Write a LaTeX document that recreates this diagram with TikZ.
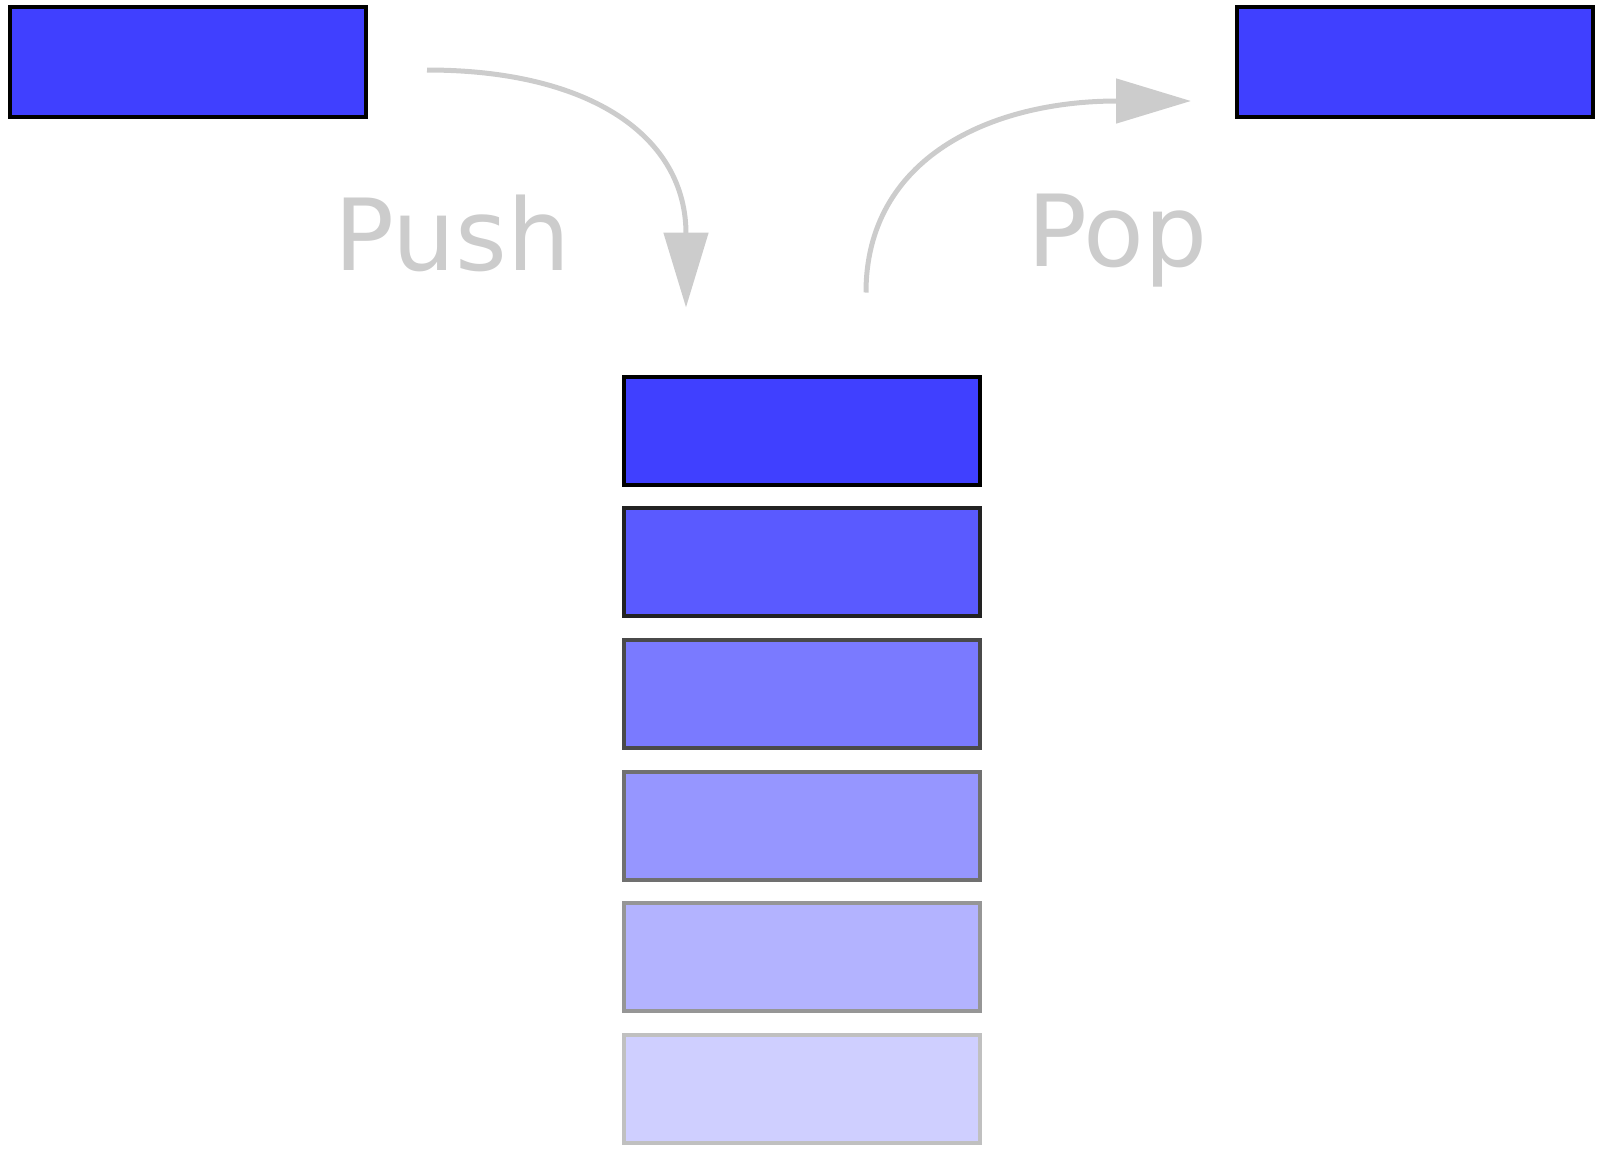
\documentclass[tikz,border=0pt]{standalone}
\usepackage{fontspec}
\setmainfont{DejaVu Sans}
\usetikzlibrary{positioning,arrows.meta}
\definecolor{item1}{RGB}{64,64,255}
\definecolor{item2}{RGB}{90,90,255}
\definecolor{item3}{RGB}{122,122,255}
\definecolor{item4}{RGB}{150,150,255}
\definecolor{item5}{RGB}{179,179,255}
\definecolor{item6}{RGB}{207,207,255}
\definecolor{edge2}{RGB}{34,34,34}
\definecolor{edge3}{RGB}{74,74,74}
\definecolor{edge4}{RGB}{112,112,112}
\definecolor{edge5}{RGB}{150,150,150}
\definecolor{edge6}{RGB}{192,192,192}
\definecolor{hint}{RGB}{204,204,204}
\tikzset{%
  block/.style={draw, rectangle, minimum width=7.12cm, minimum height=2.16cm,
    line width=0.08cm, inner sep=0pt},% one stack item
  move/.style={draw=hint, line width=0.1cm,
    -{Triangle[length=1.5cm, width=0.88cm]}},% push / pop arrow
  opname/.style={text=hint, anchor=base west, inner sep=0pt,
    font=\fontsize{56.6}{60}\selectfont}% push / pop label
}

\begin{document}
\begin{tikzpicture}
\useasboundingbox (0,0) rectangle (32,-23);

\node[block, fill=item1, minimum height=2.2cm] (in) at (3.76,-1.24) {};
\node[block, fill=item1, minimum height=2.2cm] (out) at (28.30,-1.24) {};

\node[block, fill=item1] (s1) at (16.04,-8.61) {};
\node[block, fill=item2, draw=edge2] (s2) at (16.04,-11.24) {};
\node[block, fill=item3, draw=edge3] (s3) at (16.04,-13.87) {};
\node[block, fill=item4, draw=edge4] (s4) at (16.04,-16.51) {};
\node[block, fill=item5, draw=edge5] (s5) at (16.04,-19.14) {};
\node[block, fill=item6, draw=edge6] (s6) at (16.04,-21.77) {};

\coordinate (pushA) at ([shift={(1.18,-0.16)}]in.east);
\coordinate (pushB) at ([shift={(1.28,1.34)}]s1.north west);
\coordinate (popA) at ([shift={(4.88,1.64)}]s1.north west);
\coordinate (popB) at ([shift={(-0.88,-0.78)}]out.west);

\draw[move] (pushA) .. controls +(3.3,0) and +(0,3.4) .. (pushB);
\draw[move] (popA) .. controls +(0,2.7) and +(-4.0,0) .. (popB);

\node[opname] (push) at (6.68,-5.40) {Push};
\node[opname] (pop) at (20.54,-5.32) {Pop};
\end{tikzpicture}
\end{document}
